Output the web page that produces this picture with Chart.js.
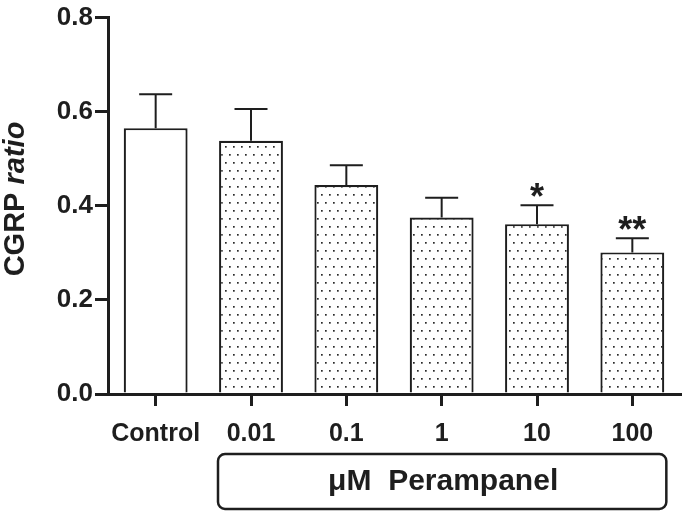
<!DOCTYPE html>
<html>
<head>
<meta charset="utf-8">
<script src="https://cdn.jsdelivr.net/npm/chart.js@4.4.1/dist/chart.umd.min.js"></script>
<style>
  html, body { margin: 0; padding: 0; background: #fff; }
  #wrap { width: 685px; height: 512px; }
</style>
</head>
<body>
<div id="wrap"><canvas id="grafico" width="685" height="512"></canvas></div>
<script>
// ----------------------
// DATOS
// ----------------------
const categorias = ['Control', '0.01', '0.1', '1', '10', '100'];
const medias = [0.565, 0.538, 0.444, 0.375, 0.361, 0.301];
const errores = [0.072, 0.068, 0.042, 0.042, 0.040, 0.030];
const significancia = ['', '', '', '', '*', '**'];
const ticksY = [0, 0.2, 0.4, 0.6, 0.8];
const tituloY = ['CGRP ', 'ratio'];
const tituloGrupo = '\u03bcM  Perampanel';

const FUENTE = "'Liberation Sans', Arial, Helvetica, sans-serif";
const NEGRO = '#1e1e1e';

// patron de puntos para las barras de tratamiento
function crearPatron() {
  const c = document.createElement('canvas');
  c.width = 8; c.height = 16;
  const g = c.getContext('2d');
  g.fillStyle = '#fff';
  g.fillRect(0, 0, 8, 16);
  g.fillStyle = '#2a2a2a';
  g.fillRect(1, 2, 1.7, 1.7);
  g.fillRect(5, 10, 1.7, 1.7);
  return g.createPattern(c, 'repeat');
}

const ctx = document.getElementById('grafico').getContext('2d');
const patron = crearPatron();
const rellenos = categorias.map((c, i) => i === 0 ? '#ffffff' : patron);

const extras = {
  id: 'extras',
  afterDatasetsDraw(chart) {
    const c = chart.ctx;
    const x = chart.scales.x, y = chart.scales.y;
    c.save();
    c.strokeStyle = NEGRO;
    c.lineWidth = 2;
    medias.forEach((m, i) => {
      const px = x.getPixelForValue(i);
      const yTop = y.getPixelForValue(m);
      const yCap = y.getPixelForValue(m + errores[i]);
      c.beginPath();
      c.moveTo(px, yTop);
      c.lineTo(px, yCap);
      c.moveTo(px - 16.5, yCap);
      c.lineTo(px + 16.5, yCap);
      c.stroke();
      if (significancia[i]) {
        c.fillStyle = NEGRO;
        c.font = `bold 36px ${FUENTE}`;
        c.textAlign = 'center';
        c.textBaseline = 'alphabetic';
        c.fillText(significancia[i], px, yCap + 4);
      }
    });
    c.restore();
  },
  afterDraw(chart) {
    const c = chart.ctx;
    const x = chart.scales.x;
    c.save();
    // titulo eje Y (mezcla negrita / cursiva)
    c.fillStyle = NEGRO;
    c.translate(16, 199);
    c.rotate(-Math.PI / 2);
    c.textBaseline = 'middle';
    c.textAlign = 'left';
    c.font = `bold 29px ${FUENTE}`;
    const w1 = c.measureText(tituloY[0]).width;
    c.font = `italic bold 29px ${FUENTE}`;
    const w2 = c.measureText(tituloY[1]).width;
    const x0 = -(w1 + w2) / 2;
    c.font = `bold 29px ${FUENTE}`;
    c.fillText(tituloY[0], x0, 0);
    c.font = `italic bold 29px ${FUENTE}`;
    c.fillText(tituloY[1], x0 + w1, 0);
    c.restore();

    // caja del grupo Perampanel
    c.save();
    const izq = x.getPixelForValue(1) - 33;
    const der = x.getPixelForValue(5) + 34;
    const arriba = 454, abajo = 509;
    c.strokeStyle = NEGRO;
    c.lineWidth = 2.5;
    c.beginPath();
    c.roundRect(izq, arriba, der - izq, abajo - arriba, 7);
    c.stroke();
    c.fillStyle = NEGRO;
    c.font = `bold 30px ${FUENTE}`;
    c.textAlign = 'center';
    c.textBaseline = 'middle';
    c.fillText(tituloGrupo, (izq + der) / 2 + 1, (arriba + abajo) / 2);
    c.restore();
  }
};

new Chart(ctx, {
  type: 'bar',
  data: {
    labels: categorias,
    datasets: [{
      data: medias,
      backgroundColor: rellenos,
      borderColor: NEGRO,
      borderWidth: 2.2,
      categoryPercentage: 1,
      barPercentage: 0.67
    }]
  },
  options: {
    responsive: false,
    animation: false,
    layout: { padding: { top: 13, right: 5, left: 0, bottom: 0 } },
    plugins: {
      legend: { display: false },
      tooltip: { enabled: false }
    },
    scales: {
      x: {
        afterFit: s => { s.height = 118; },
        grid: {
          offset: false,
          drawOnChartArea: false,
          tickLength: 12,
          lineWidth: 3,
          color: NEGRO
        },
        border: { color: NEGRO, width: 3 },
        ticks: {
          color: NEGRO,
          padding: 13,
          font: { family: FUENTE, size: 25, weight: 'bold' }
        }
      },
      y: {
        min: 0,
        max: 0.8,
        afterFit: s => { s.width = 108; },
        afterBuildTicks: s => { s.ticks = ticksY.map(v => ({ value: v })); },
        grid: {
          drawOnChartArea: false,
          tickLength: 13,
          lineWidth: 3,
          color: NEGRO
        },
        border: { color: NEGRO, width: 3 },
        ticks: {
          color: NEGRO,
          padding: 2,
          font: { family: FUENTE, size: 26, weight: 'bold' },
          callback: v => Number(v).toFixed(1)
        }
      }
    }
  },
  plugins: [extras]
});
</script>
</body>
</html>
